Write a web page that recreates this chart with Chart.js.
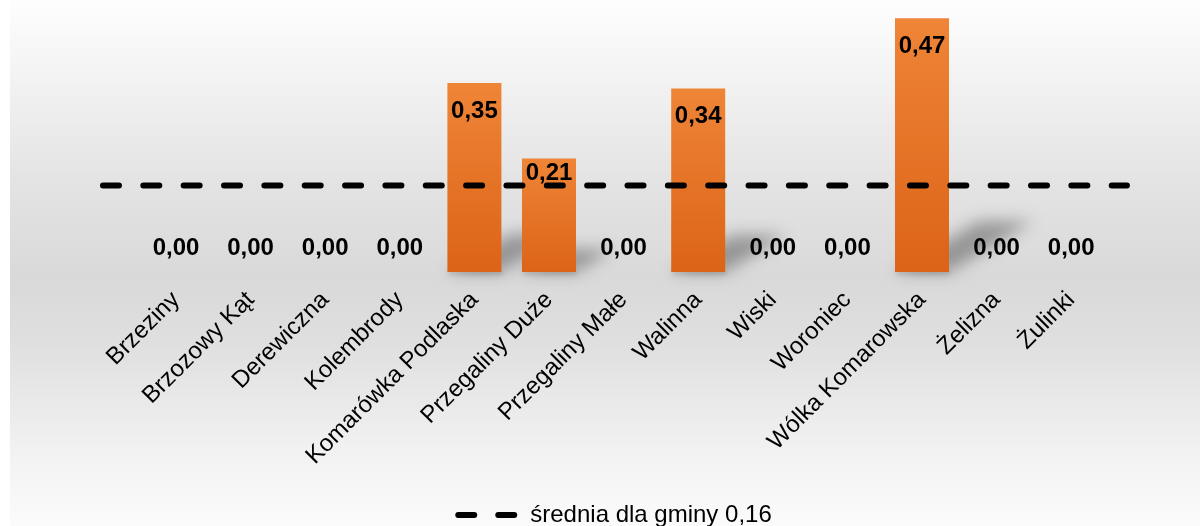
<!DOCTYPE html>
<html>
<head>
<meta charset="utf-8">
<script src="https://cdn.jsdelivr.net/npm/chart.js@4/dist/chart.umd.min.js"></script>
<style>
html,body{margin:0;padding:0;overflow:hidden;background:#fff;}
#wrap{position:relative;width:1200px;height:537px;}
</style>
</head>
<body>
<div id="wrap"><canvas id="c"></canvas></div>
<script>
const categories = ['Brzeziny','Brzozowy Kąt','Derewiczna','Kolembrody','Komarówka Podlaska','Przegaliny Duże','Przegaliny Małe','Walinna','Wiski','Woroniec','Wólka Komarowska','Żelizna','Żulinki'];
const values = [0,0,0,0,0.35,0.21,0,0.34,0,0,0.47,0,0];
const meanValue = 0.16;
const meanLabel = 'średnia dla gminy 0,16';
const yRange = [0, 0.5];

const fmt = v => v.toFixed(2).replace('.', ',');

const bgPlugin = {
  id: 'bg',
  beforeDraw(chart) {
    const ctx = chart.ctx, h = chart.height;
    ctx.save();
    const g = ctx.createLinearGradient(0, 0, 0, 526);
    g.addColorStop(0, '#fefefe');
    g.addColorStop(0.35, '#e3e3e3');
    g.addColorStop(0.53, '#d9d9d9');
    g.addColorStop(0.65, '#dfdfdf');
    g.addColorStop(0.85, '#f1f1f1');
    g.addColorStop(1, '#fbfbfb');
    ctx.fillStyle = g;
    ctx.fillRect(10, 0, chart.width - 10, h);
    ctx.restore();
  }
};

const shadowPlugin = {
  id: 'shadows',
  beforeDatasetsDraw(chart) {
    const meta = chart.getDatasetMeta(1);
    const ctx = chart.ctx;
    ctx.save();
    meta.data.forEach((bar, i) => {
      const v = values[i];
      if (v <= 0) return;
      const p = bar.getProps(['x','y','base','width'], true);
      const l = p.x - p.width/2, r = p.x + p.width/2;
      ctx.filter = 'blur(2px)';
      ctx.fillStyle = 'rgba(0,0,0,0.12)';
      ctx.fillRect(l + 1, p.base - 2, p.width, 5);
      const hgt = p.base - p.y;
      const run = 0.33 * hgt, rise = 0.2 * hgt;
      ctx.filter = 'blur(8px)';
      ctx.fillStyle = 'rgba(0,0,0,0.32)';
      ctx.beginPath();
      ctx.moveTo(l, p.base);
      ctx.lineTo(r, p.base);
      ctx.lineTo(r + run, p.base - rise);
      ctx.lineTo(l + run, p.base - rise);
      ctx.closePath();
      ctx.fill();
    });
    ctx.filter = 'none';
    ctx.restore();
  }
};

const labelPlugin = {
  id: 'vlabels',
  afterDatasetsDraw(chart) {
    const meta = chart.getDatasetMeta(1);
    const ctx = chart.ctx;
    const lineY = chart.scales.y.getPixelForValue(meanValue);
    ctx.save();
    ctx.font = 'bold 24px "Liberation Sans", Arial, sans-serif';
    ctx.fillStyle = '#000';
    ctx.textAlign = 'center';
    ctx.textBaseline = 'middle';
    meta.data.forEach((bar, i) => {
      const v = values[i];
      const p = bar.getProps(['x','y','base'], true);
      let y;
      if (v > 0) {
        y = p.y + 27;
        if (Math.abs(y - lineY) < 14) y = lineY - 13;
      } else {
        y = p.base - 25;
      }
      ctx.fillText(fmt(v), p.x, y + 1);
    });
    ctx.restore();
  }
};

const barColor = (c) => {
  const ch = c.chart;
  const ys = ch.scales && ch.scales.y;
  if (!ys || c.type !== 'data') return '#e67628';
  const top = ys.getPixelForValue(c.raw), base = ys.getPixelForValue(0);
  if (!isFinite(top) || !isFinite(base) || Math.abs(base - top) < 1) return '#e67628';
  const g = ch.ctx.createLinearGradient(0, top, 0, base);
  g.addColorStop(0, '#EF8537');
  g.addColorStop(1, '#DC6317');
  return g;
};

new Chart(document.getElementById('c'), {
  data: {
    labels: categories,
    datasets: [
      {
        type: 'line',
        label: meanLabel,
        data: [{x: 0, y: meanValue}, {x: 1, y: meanValue}],
        xAxisID: 'xl',
        yAxisID: 'y',
        borderColor: '#000',
        borderWidth: 6,
        borderDash: [16, 24.35],
        borderCapStyle: 'round',
        pointRadius: 0,
        clip: false,
        order: 0
      },
      {
        type: 'bar',
        label: 'wartość',
        data: values,
        xAxisID: 'x',
        yAxisID: 'y',
        backgroundColor: barColor,
        borderWidth: 0,
        grouped: false,
        categoryPercentage: 1,
        barPercentage: 0.724,
        order: 1
      }
    ]
  },
  options: {
    responsive: true,
    maintainAspectRatio: false,
    animation: false,
    layout: { padding: { top: 2, left: 30, right: 0, bottom: 0 } },
    scales: {
      x: {
        type: 'category',
        position: 'bottom',
        offset: true,
        grid: { display: false },
        border: { display: false },
        ticks: {
          color: '#000',
          font: { family: '"Liberation Sans", Arial, sans-serif', size: 24 },
          minRotation: 45, maxRotation: 45,
          autoSkip: false,
          padding: 6
        },
        afterFit(s) { s.height = 221; }
      },
      xl: {
        type: 'linear',
        display: false,
        min: 0.0349,
        max: 0.982
      },
      y: {
        type: 'linear',
        position: 'left',
        min: yRange[0], max: yRange[1],
        grid: { display: false },
        border: { display: false },
        ticks: { display: false },
        afterFit(s) { s.width = 108.7; }
      },
      yr: {
        type: 'linear',
        position: 'right',
        grid: { display: false },
        border: { display: false },
        ticks: { display: false },
        afterFit(s) { s.width = 91.5; }
      }
    },
    plugins: {
      tooltip: { enabled: false },
      legend: {
        position: 'bottom',
        labels: {
          usePointStyle: true,
          pointStyleWidth: 60,
          padding: 10,
          color: '#000',
          font: { family: '"Liberation Sans", Arial, sans-serif', size: 24 },
          generateLabels: (chart) => [{
            text: meanLabel,
            datasetIndex: 0,
            fillStyle: '#000',
            strokeStyle: '#000',
            lineWidth: 6,
            lineDash: [16, 24],
            lineCap: 'round',
            pointStyle: 'line',
            fontColor: '#000',
            hidden: false
          }]
        }
      }
    }
  },
  plugins: [bgPlugin, shadowPlugin, labelPlugin]
});
</script>
</body>
</html>
